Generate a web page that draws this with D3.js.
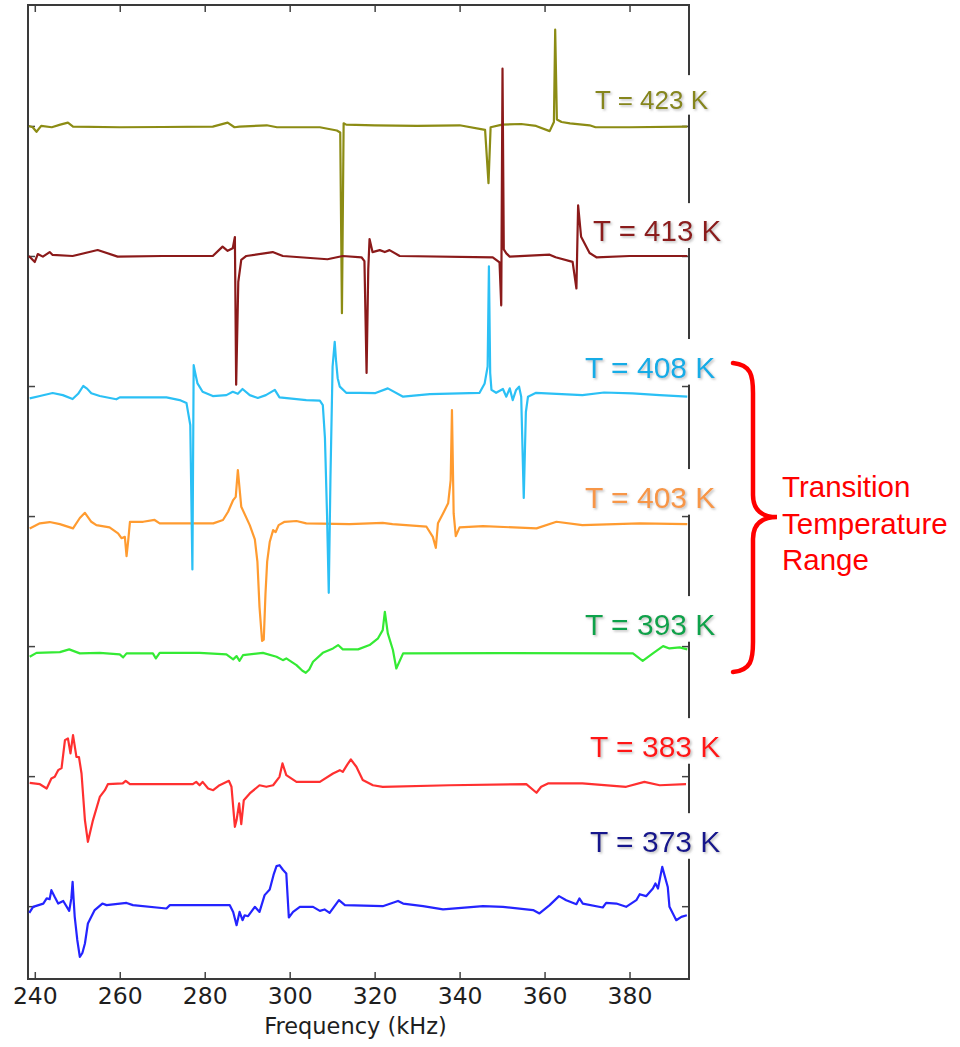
<!DOCTYPE html>
<html>
<head>
<meta charset="utf-8">
<title>Spectra vs temperature</title>
<script src="https://cdn.jsdelivr.net/npm/d3@7/dist/d3.min.js"></script>
<style>
    body { margin: 0; background: #fff; }
</style>
</head>
<body>
<script>
//temperatures of each trace and the vertical offset it was stacked at
var temperatures = [373, 383, 393, 403, 408, 413, 423];
var offsets = [0, 10, 20, 30, 40, 50, 60];
var xTicks = [240, 260, 280, 300, 320, 340, 360, 380];
var bracketText = ["Transition", "Temperature", "Range"];

//traces: [frequency kHz, signal relative to offset]
var trace373 = [[238.7,-0.52],[239.6,-0.05],[242,0.2],[242.8,0.6],[243.5,0.54],[243.9,1.23],[244.7,0.7],[245.5,0.2],[246.7,0.4],[248.1,-0.36],[248.6,0.6],[248.9,1.87],[249.2,0.2],[249.4,-0.82],[250,-2.6],[250.6,-3.9],[251.2,-3.6],[251.8,-2.87],[252.5,-1.33],[254.1,-0.3],[255.9,0.2],[256.9,0.08],[261.6,0.25],[263.1,0.08],[271,-0.18],[271.8,0.08],[280.4,0.08],[285.9,0.08],[286.7,-0.44],[287.5,-1.46],[288.2,-0.44],[288.9,-1.08],[289.4,-0.7],[290.2,-0.77],[291.8,-0.05],[292.9,-0.44],[294.1,0.85],[295.3,1.28],[296.2,2.4],[296.9,3.08],[297.6,3.15],[298.4,2.8],[299.2,2.52],[299.8,-0.87],[300.8,-0.44],[302.4,-0.05],[305.5,-0.05],[307.1,-0.36],[308.2,-0.25],[309.4,-0.52],[311.6,0.46],[313,0.08],[321.9,0],[325.5,0.4],[326.7,0.2],[331.4,0],[336.1,-0.25],[345.5,0],[350.2,-0.05],[357.3,-0.3],[358.8,-0.56],[361.2,0.08],[363.4,0.77],[365.1,0.46],[367.5,0.15],[368.2,0.6],[369,0.2],[373.7,-0.1],[374.5,0.25],[376.9,0.2],[379.2,-0.05],[381.6,0.46],[382.4,0.92],[383.9,0.77],[385.5,1.36],[386.1,1.75],[386.7,1.36],[387.7,3.02],[389,1.48],[389.4,-0.05],[390.2,-0.56],[391,-1.08],[392.2,-0.82],[393.5,-0.7]];

var trace383 = [[238.8,-0.52],[241.2,-0.62],[242.8,-0.95],[243.9,-0.18],[244.7,-0.05],[245.5,0.46],[246.3,0.62],[247.1,2.77],[247.8,2.9],[248.4,1.75],[249,3.15],[249.8,1.48],[250.4,1.46],[251,0.2],[251.8,-3.38],[252.5,-5.05],[253.7,-3.38],[255.3,-1.6],[256.5,-1.08],[257.2,-0.62],[260.7,-0.56],[261.4,-0.36],[262.4,-0.62],[277.2,-0.62],[278,-0.44],[278.8,-0.7],[279.5,-0.44],[280.8,-0.95],[282,-1.08],[283.5,-0.7],[285.7,-0.36],[286.3,-0.82],[287.1,-3.9],[287.5,-3.38],[288.1,-2.1],[288.6,-3.7],[289.2,-1.85],[290.6,-1.33],[292.9,-0.7],[294.5,-0.82],[296.1,-0.7],[297.6,-0.05],[298.3,0.98],[299.2,0.08],[301.6,-0.44],[307.1,-0.44],[310.2,0.2],[311.8,0.46],[312.5,0.33],[313.6,0.9],[314.4,1.28],[315.7,0.72],[317.2,-0.3],[319.6,-0.7],[321.9,-0.82],[337.6,-0.7],[355.7,-0.62],[358.1,-1.28],[359.2,-0.82],[360.8,-0.56],[368.9,-0.56],[379.2,-0.82],[383.5,-0.44],[387.1,-0.7],[393.3,-0.62]];

var trace393 = [[238.8,-0.82],[240.4,-0.52],[245.9,-0.46],[248.1,-0.25],[250.6,-0.56],[255.3,-0.52],[260,-0.64],[260.8,-0.87],[261.6,-0.56],[267.8,-0.56],[268.5,-0.95],[269.4,-0.52],[278.8,-0.52],[285.1,-0.64],[286.7,-1.02],[287.5,-0.77],[288.2,-1.13],[289,-0.7],[293.7,-0.52],[296.9,-0.82],[298.4,-1.08],[299.2,-0.95],[301.6,-1.46],[303,-1.9],[303.8,-2.05],[304.6,-1.8],[305.5,-1.2],[307.8,-0.52],[310.2,-0.18],[311.4,0.08],[312.5,-0.25],[316.1,-0.25],[318.8,0.08],[320.8,0.6],[321.9,1.23],[322.4,2.64],[323.1,0.98],[324.3,-0.3],[325.1,-1.72],[326.7,-0.56],[349.4,-0.54],[380.8,-0.56],[383.1,-1.13],[385.5,-0.56],[387.9,0],[389.4,-0.18],[391.8,-0.1],[393.6,-0.25]];

var trace403 = [[238.8,-0.95],[241.2,-0.56],[243.5,-0.46],[245.9,-0.62],[249,-0.95],[250.6,-0.15],[251.8,0.25],[253.3,-0.44],[254.5,-0.7],[257.6,-0.87],[259.6,-1.33],[260.4,-1.7],[261.2,-1.6],[261.6,-3.08],[262,-1.85],[262.4,-0.44],[265.5,-0.44],[268.2,-0.3],[269.4,-0.56],[282,-0.56],[284.3,-0.3],[285.5,0.33],[286.7,1.23],[287.3,1.48],[287.8,3.54],[288.6,0.72],[290.6,-0.7],[291.8,-1.8],[292.4,-3.5],[292.9,-7],[293.5,-9.6],[293.9,-9.5],[294.3,-6],[294.7,-3.5],[295.3,-2],[296.1,-1.08],[296.7,-1.23],[297.4,-0.7],[298.8,-0.44],[301.6,-0.38],[303.9,-0.56],[314.1,-0.62],[321.9,-0.52],[324.2,-0.62],[332.2,-0.82],[333.7,-1.6],[334.4,-2.44],[334.9,-0.56],[336.1,0.2],[337.3,0.98],[337.9,2.77],[338.2,8.15],[338.6,0.2],[339.1,-1.54],[340,-0.87],[345.5,-0.77],[358.1,-0.95],[362.8,-0.44],[368.9,-0.7],[382.4,-0.56],[393.6,-0.62]];

var trace408 = [[238.8,-0.95],[241.2,-0.77],[244.2,-0.54],[246.6,-0.7],[248.9,-1.0],[250.2,-0.6],[251.4,0],[252.3,-0.2],[253.3,-0.56],[255.3,-0.77],[259.2,-1.02],[260,-0.87],[271,-0.87],[274.1,-1.08],[275.7,-1.3],[276.6,-3],[277.1,-14.1],[277.4,1.6],[277.7,1.1],[278.3,0.2],[279.5,-0.44],[281.9,-0.77],[285.1,-0.7],[286.6,-0.44],[287.8,-0.6],[288.9,-0.23],[290.6,-0.7],[292.5,-0.92],[294.4,-0.7],[296.5,-0.3],[297.6,-0.87],[303.9,-1.08],[307.1,-1.13],[307.8,-1.46],[308.3,-4],[308.8,-10],[309.2,-15.9],[309.6,-7],[310.1,1.5],[310.6,3.4],[310.9,2],[311.3,0.6],[311.8,-0.05],[313.3,-0.52],[316.5,-0.52],[320.2,-0.54],[323.1,-0.18],[326.7,-0.82],[333,-0.62],[344.7,-0.52],[345.9,0.2],[346.6,1.5],[346.9,9.2],[347.2,1],[347.5,-0.3],[348.6,-0.52],[350.2,-0.23],[351,-0.82],[351.8,-0.18],[352.5,-1.08],[353.3,-0.3],[354,-0.05],[354.5,-0.82],[355.1,-8.6],[355.6,-2],[356.1,-0.82],[358,-0.52],[368.9,-0.7],[374,-0.5],[380.7,-0.56],[387.1,-0.7],[393.6,-0.82]];

var trace413 = [[238.6,0],[240,-0.46],[240.7,0.15],[241.9,-0.05],[243.5,0.3],[244.2,0.08],[248.9,0],[254.8,0.46],[259.5,-0.05],[270,0],[281.9,0],[284.2,0.72],[285.4,0.4],[286.6,0.6],[287.1,1.46],[287.4,-9.9],[287.9,-2],[288.6,-0.3],[289.8,0],[296,0.3],[298.4,0],[308.9,-0.25],[312.5,0],[316.9,-0.1],[317.6,-0.4],[318.1,-9.0],[318.5,-1],[318.8,1.3],[319.5,0.3],[321.2,0.45],[322.4,0.3],[323.5,0.45],[325.9,0],[347.8,-0.1],[349.4,-0.5],[349.8,-3.8],[350.1,14.4],[350.4,0.5],[351,0.2],[351.8,-0.05],[361.2,0.1],[362.6,-0.1],[366.6,-0.45],[367.5,-2.5],[367.9,3.9],[368.6,1.48],[370.6,0.23],[372.2,-0.1],[380,0],[393.6,0]];

var trace423 = [[238.6,0],[239.5,-0.1],[240.4,-0.45],[241.5,0],[244,-0.1],[246,0.1],[247.8,0.25],[249,-0.05],[260,-0.1],[270,-0.08],[281.9,-0.05],[285.4,0.25],[287,-0.1],[288.2,-0.05],[294.6,0.05],[297,-0.1],[307.1,-0.1],[311.1,-0.35],[311.9,-0.5],[312.3,-14.4],[312.7,0.2],[313.3,0.1],[320,0.05],[330,0],[340,0.05],[346,-0.3],[346.8,-4.4],[347.3,-0.1],[350,0.1],[354.5,0.15],[358,0],[361.2,-0.4],[362.2,0.3],[362.5,7.4],[362.9,0.5],[364,0.3],[366,0.2],[370.6,0.05],[372,-0.1],[380,-0.1],[393.6,-0.05]];

var traces = [trace373, trace383, trace393, trace403, trace408, trace413, trace423];

//styles per trace
var lineColors = ["#2424ff", "#ff3030", "#34ea34", "#ff9b30", "#2bc0f5", "#8b1a1a", "#8c8c14"];
var textColors = ["#16168c", "#ff1414", "#10a24c", "#f79646", "#12ace6", "#8b1a1a", "#86861a"];
//label placement: left x, baseline shift from the trace offset, font size
var labelX = [590, 590, 585, 585, 585, 593, 595];
var labelDy = [-54, -19, -11, -8, -8, -14.5, -17];
var labelSize = [30, 30, 30, 30, 30, 29.5, 26];
//drawing order so the higher temperatures sit on top
var drawOrder = [0, 1, 2, 3, 4, 6, 5];

window.onload = setChart;

function setChart(){

    var width = 960,
        height = 1047;

    var frame = {left: 28, right: 689, top: 5, bottom: 979};

    var svg = d3.select("body")
        .append("svg")
        .attr("width", width)
        .attr("height", height);

    var defs = svg.append("defs");

    //soft shadow behind the temperature labels
    defs.append("filter")
        .attr("id", "shadow")
        .attr("x", "-10%").attr("y", "-20%")
        .attr("width", "130%").attr("height", "150%")
        .append("feDropShadow")
        .attr("dx", 1.5).attr("dy", 1.5)
        .attr("stdDeviation", 0.8)
        .attr("flood-color", "#8a8a8a")
        .attr("flood-opacity", 0.55);

    defs.append("clipPath")
        .attr("id", "plotClip")
        .append("rect")
        .attr("x", frame.left)
        .attr("y", frame.top)
        .attr("width", frame.right - frame.left)
        .attr("height", frame.bottom - frame.top);

    var x = d3.scaleLinear()
        .domain([238.4, 394])
        .range([frame.left, frame.right]);

    var y = d3.scaleLinear()
        .domain([-5.6, 69.3])
        .range([frame.bottom, frame.top]);

    //axes, ticks pointing inwards
    var xAxis = svg.append("g")
        .attr("transform", "translate(0," + frame.bottom + ")")
        .call(d3.axisBottom(x)
            .tickValues(xTicks)
            .tickSizeInner(-7)
            .tickSizeOuter(0)
            .tickPadding(8));

    xAxis.selectAll("text")
        .style("font-family", "'DejaVu Sans', sans-serif")
        .style("font-size", "23.5px")
        .attr("fill", "#1e1e1e");

    svg.append("g")
        .attr("transform", "translate(0," + frame.top + ")")
        .call(d3.axisTop(x).tickValues(xTicks).tickSizeInner(-7).tickSizeOuter(0).tickFormat(""));

    svg.append("g")
        .attr("transform", "translate(" + frame.left + ",0)")
        .call(d3.axisLeft(y).tickValues(offsets).tickSizeInner(-7).tickSizeOuter(0).tickFormat(""));

    svg.append("g")
        .attr("transform", "translate(" + frame.right + ",0)")
        .call(d3.axisRight(y).tickValues(offsets).tickSizeInner(-7).tickSizeOuter(0).tickFormat(""));

    svg.selectAll(".domain").remove();
    svg.selectAll(".tick line")
        .attr("stroke", "#444")
        .attr("stroke-width", 1.5);

    //axis frame
    svg.append("rect")
        .attr("class", "frame")
        .attr("x", frame.left)
        .attr("y", frame.top)
        .attr("width", frame.right - frame.left)
        .attr("height", frame.bottom - frame.top)
        .attr("fill", "none")
        .attr("stroke", "#3a3a3a")
        .attr("stroke-width", 2);

    svg.append("text")
        .attr("x", (frame.left + frame.right) / 2 - 3)
        .attr("y", 1034)
        .attr("text-anchor", "middle")
        .style("font-family", "'DejaVu Sans', sans-serif")
        .style("font-size", "22.5px")
        .attr("fill", "#1e1e1e")
        .text("Frequency (kHz)");

    //stacked traces
    var plot = svg.append("g")
        .attr("clip-path", "url(#plotClip)");

    plot.selectAll(".trace")
        .data(drawOrder)
        .enter()
        .append("path")
        .attr("class", function(i){ return "trace t" + temperatures[i]; })
        .attr("d", function(i){
            var line = d3.line()
                .x(function(d){ return x(d[0]); })
                .y(function(d){ return y(d[1] + offsets[i]); });
            return line(traces[i]);
        })
        .attr("fill", "none")
        .attr("stroke", function(i){ return lineColors[i]; })
        .attr("stroke-width", 2.2)
        .attr("stroke-linejoin", "round");

    //temperature labels on white patches that break the right frame
    var labels = svg.selectAll(".label")
        .data(d3.range(temperatures.length))
        .enter()
        .append("g")
        .attr("class", "label");

    labels.each(function(i){
        var g = d3.select(this);
        var base = y(offsets[i]) + labelDy[i];
        var box = g.append("rect").attr("fill", "#fff");
        var t = g.append("text")
            .attr("x", labelX[i])
            .attr("y", base)
            .attr("fill", textColors[i])
            .attr("filter", "url(#shadow)")
            .style("font-family", "'Liberation Sans', Arial, sans-serif")
            .style("font-size", labelSize[i] + "px")
            .text("T = " + temperatures[i] + " K");
        var w = t.node().getComputedTextLength();
        box.attr("x", labelX[i] - 3)
            .attr("y", base - labelSize[i] * 1.3)
            .attr("width", w + 8)
            .attr("height", labelSize[i] * 1.52);
    });

    //curly bracket over the transition traces (393 K to 408 K)
    var yTop = y(offsets[4]) - 23,
        yMid = y(offsets[3]) + 1,
        yBot = y(offsets[2]) + 26,
        bx0 = 733, bx1 = 753, bTip = 777;

    var bracePath = d3.path();
    bracePath.moveTo(bx0, yTop);
    bracePath.bezierCurveTo(bx1 - 2, yTop + 2, bx1, yTop + 12, bx1, yTop + 30);
    bracePath.lineTo(bx1, yMid - 22);
    bracePath.bezierCurveTo(bx1, yMid - 6, bx1 + 10, yMid, bTip, yMid);
    bracePath.bezierCurveTo(bx1 + 10, yMid, bx1, yMid + 6, bx1, yMid + 22);
    bracePath.lineTo(bx1, yBot - 30);
    bracePath.bezierCurveTo(bx1, yBot - 12, bx1 - 2, yBot - 2, bx0, yBot);

    svg.append("path")
        .attr("d", bracePath.toString())
        .attr("fill", "none")
        .attr("stroke", "#ff0000")
        .attr("stroke-width", 4.5)
        .attr("stroke-linecap", "round");

    svg.selectAll(".bracketText")
        .data(bracketText)
        .enter()
        .append("text")
        .attr("class", "bracketText")
        .attr("x", 782)
        .attr("y", function(d, i){ return yMid - 20 + i * 36.5; })
        .attr("fill", "#ff0000")
        .style("font-family", "'Liberation Sans', Arial, sans-serif")
        .style("font-size", "29.5px")
        .text(function(d){ return d; });
};
</script>
</body>
</html>
